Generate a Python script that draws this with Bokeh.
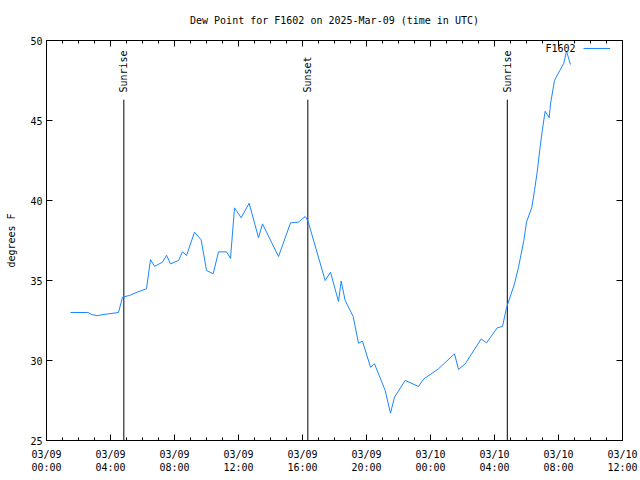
from math import pi
import pandas as pd
from bokeh.plotting import figure
from bokeh.models import (LinearAxis, FixedTicker, Range1d, Legend, LegendItem, Label)
from bokeh.core.properties import value
from bokeh.embed import file_html
from bokeh.resources import INLINE

# ---- data ----
times = [
    "2025-03-09 01:30", "2025-03-09 02:35", "2025-03-09 02:50", "2025-03-09 03:10",
    "2025-03-09 03:25", "2025-03-09 03:45", "2025-03-09 04:30", "2025-03-09 04:45",
    "2025-03-09 05:10", "2025-03-09 05:40", "2025-03-09 06:15", "2025-03-09 06:30",
    "2025-03-09 06:45", "2025-03-09 07:15", "2025-03-09 07:30", "2025-03-09 07:45",
    "2025-03-09 08:15", "2025-03-09 08:30", "2025-03-09 08:45", "2025-03-09 09:15",
    "2025-03-09 09:40", "2025-03-09 10:00", "2025-03-09 10:25", "2025-03-09 10:45",
    "2025-03-09 11:15", "2025-03-09 11:30", "2025-03-09 11:45", "2025-03-09 12:10",
    "2025-03-09 12:40", "2025-03-09 13:15", "2025-03-09 13:30", "2025-03-09 14:30",
    "2025-03-09 15:15", "2025-03-09 15:45", "2025-03-09 16:10", "2025-03-09 16:20",
    "2025-03-09 17:25", "2025-03-09 17:45", "2025-03-09 18:15", "2025-03-09 18:25",
    "2025-03-09 18:40", "2025-03-09 19:10", "2025-03-09 19:30", "2025-03-09 19:45",
    "2025-03-09 20:15", "2025-03-09 20:30", "2025-03-09 21:10", "2025-03-09 21:30",
    "2025-03-09 21:45", "2025-03-09 22:25", "2025-03-09 23:15", "2025-03-09 23:35",
    "2025-03-10 00:30", "2025-03-10 01:30", "2025-03-10 01:45", "2025-03-10 02:10",
    "2025-03-10 03:10", "2025-03-10 03:30", "2025-03-10 04:10", "2025-03-10 04:30",
    "2025-03-10 04:45", "2025-03-10 05:15", "2025-03-10 05:30", "2025-03-10 05:50",
    "2025-03-10 06:00", "2025-03-10 06:20", "2025-03-10 06:30", "2025-03-10 06:40",
    "2025-03-10 06:50", "2025-03-10 07:00", "2025-03-10 07:10", "2025-03-10 07:25",
    "2025-03-10 07:30", "2025-03-10 07:45", "2025-03-10 08:05", "2025-03-10 08:20",
    "2025-03-10 08:30", "2025-03-10 08:45",
]
dewpoint = [
    33.0, 33.0, 32.87, 32.8,
    32.85, 32.9, 33.0, 33.96,
    34.06, 34.27, 34.48, 36.31,
    35.88, 36.15, 36.58, 36.04,
    36.25, 36.79, 36.56, 38.02,
    37.54, 35.63, 35.42, 36.79,
    36.79, 36.38, 39.54, 38.92,
    39.83, 37.67, 38.54, 36.5,
    38.6, 38.65, 39.0, 38.75,
    35.0, 35.52, 33.69, 34.96,
    33.75, 32.75, 31.08, 31.21,
    29.58, 29.79, 28.13, 26.71,
    27.71, 28.75, 28.38, 28.85,
    29.48, 30.42, 29.44, 29.79,
    31.35, 31.1, 32.04, 32.13,
    33.3, 34.79, 35.83, 37.5,
    38.65, 39.58, 40.63, 41.77,
    43.2, 44.48, 45.58, 45.17,
    46.04, 47.5, 48.13, 48.58,
    49.33, 48.5,
]
event_times = ["2025-03-09 04:50", "2025-03-09 16:20", "2025-03-10 04:48"]
event_labels = ["Sunrise", "Sunset", "Sunrise"]
x_tick_times = ["2025-03-09 00:00", "2025-03-09 04:00", "2025-03-09 08:00",
                "2025-03-09 12:00", "2025-03-09 16:00", "2025-03-09 20:00",
                "2025-03-10 00:00", "2025-03-10 04:00", "2025-03-10 08:00",
                "2025-03-10 12:00"]
x_tick_labels = ["03/09\n00:00", "03/09\n04:00", "03/09\n08:00", "03/09\n12:00",
                 "03/09\n16:00", "03/09\n20:00", "03/10\n00:00", "03/10\n04:00",
                 "03/10\n08:00", "03/10\n12:00"]
y_ticks = [25, 30, 35, 40, 45, 50]
series_name = "F1602"
title_text = "Dew Point for F1602 on 2025-Mar-09 (time in UTC)"
y_label = "degrees F"


def ms(s):
    return pd.Timestamp(s).value / 1e6


FONT = "DejaVu Sans Mono"
FS = "10px"
LINE_COLOR = "#1a86ff"

x_ms = [ms(t) for t in times]
ev_ms = [ms(t) for t in event_times]
tick_ms = [ms(t) for t in x_tick_times]
minor_ms = [ms(x_tick_times[0]) + h * 3600000.0 for h in range(0, 37)]

p = figure(width=640, height=480, output_backend="svg", toolbar_location=None,
           x_range=Range1d(tick_ms[0], tick_ms[-1]), y_range=Range1d(25, 50),
           x_axis_type=None, y_axis_type=None,
           min_border_left=46, min_border_right=18, min_border_top=40, min_border_bottom=40)
p.title = None
p.xgrid.visible = False
p.ygrid.visible = False
p.outline_line_color = "black"
p.outline_line_width = 1
p.background_fill_color = "white"
p.border_fill_color = "white"

xticker = FixedTicker(ticks=tick_ms, minor_ticks=minor_ms)
yticker = FixedTicker(ticks=y_ticks, minor_ticks=[])


def style(ax):
    ax.axis_line_color = "black"
    ax.major_tick_in = 6
    ax.major_tick_out = 0
    ax.minor_tick_in = 3
    ax.minor_tick_out = 0
    ax.major_tick_line_color = "black"
    ax.minor_tick_line_color = "black"
    ax.major_label_text_font = FONT
    ax.major_label_text_font_size = FS
    ax.major_label_text_color = "black"
    ax.axis_label_text_font = FONT
    ax.axis_label_text_font_size = FS
    ax.axis_label_text_font_style = "normal"
    ax.axis_label_text_color = "black"


xb = LinearAxis(ticker=xticker)
xb.major_label_overrides = {t: l for t, l in zip(tick_ms, x_tick_labels)}
style(xb)
xb.major_label_standoff = 8
p.add_layout(xb, "below")

# mirrored top axis: ticks only; its axis label carries the chart title
xt = LinearAxis(ticker=xticker, axis_label=title_text)
style(xt)
xt.major_label_overrides = {t: "" for t in tick_ms}
xt.major_label_standoff = 0
xt.axis_label_standoff = 15
p.add_layout(xt, "above")

yl = LinearAxis(ticker=yticker, axis_label=y_label)
style(yl)
yl.major_label_standoff = 4
yl.axis_label_standoff = 10
p.add_layout(yl, "left")

yr = LinearAxis(ticker=yticker)
style(yr)
yr.major_label_overrides = {t: "" for t in y_ticks}
yr.major_label_standoff = 0
p.add_layout(yr, "right")

# sunrise / sunset markers
p.segment(x0=ev_ms, y0=[25] * len(ev_ms), x1=ev_ms, y1=[46.3] * len(ev_ms),
          line_color="black", line_width=1)
p.text(x=ev_ms, y=[46.75] * len(ev_ms), text=event_labels, angle=pi / 2,
       text_align="left", text_baseline="middle", text_font=value(FONT),
       text_font_size=FS, text_color="black")

r = p.line(x_ms, dewpoint, line_color=LINE_COLOR, line_width=1)

legend = Legend(items=[LegendItem(label=" ", renderers=[r])], location=(537, 386),
                padding=0, margin=0, spacing=0, glyph_width=27, glyph_height=12,
                label_height=12, label_width=0, label_standoff=0,
                label_text_font=FONT, label_text_font_size=FS,
                border_line_alpha=0, background_fill_alpha=0)
p.add_layout(legend, "center")
p.add_layout(Label(x=529, y=392, x_units="screen", y_units="screen", text=series_name,
                   text_align="right", text_baseline="middle", text_font=FONT,
                   text_font_size=FS, text_color="black"))

open("out.html", "w").write(file_html(p, INLINE))
